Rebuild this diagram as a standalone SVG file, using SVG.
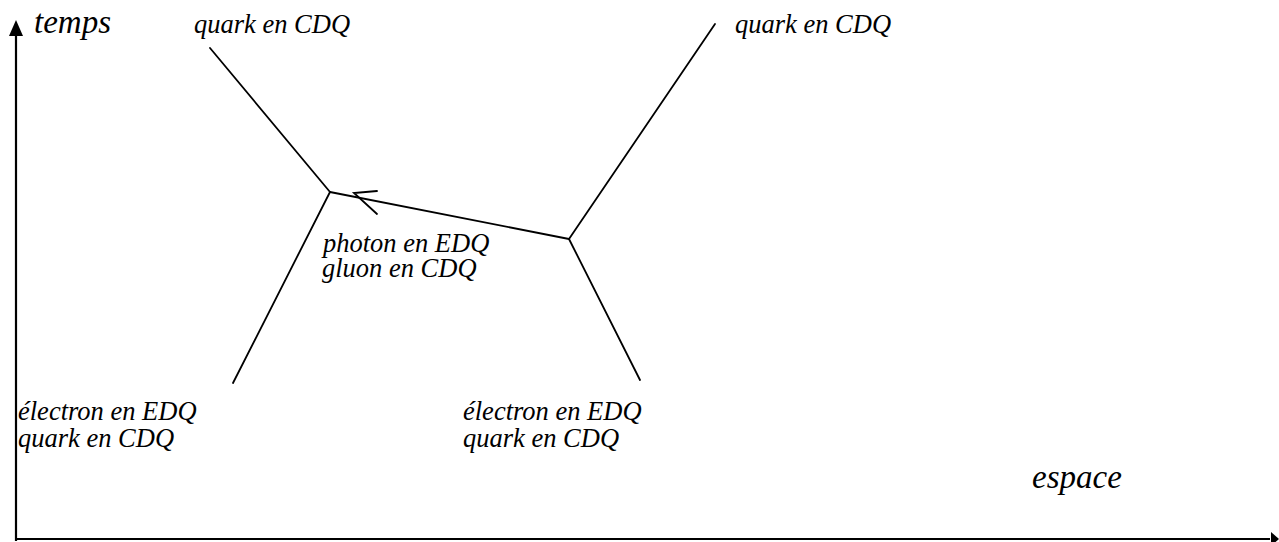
<svg xmlns="http://www.w3.org/2000/svg" width="1279" height="542" viewBox="0 0 1279 542">
<style>
.t{font-family:"Liberation Serif","Times New Roman",serif;font-style:italic;font-size:26.5px;fill:#000}
.big{font-size:33px}
.ax{stroke:#000;stroke-width:2.2;fill:none}
.ln{stroke:#000;stroke-width:1.8;fill:none;stroke-linecap:round}
</style>
<rect width="1279" height="542" fill="#fff"/>
<g id="axes">
<line class="ax" x1="16" y1="541" x2="16" y2="32"/>
<polygon points="16,20 9,36 23,36" fill="#000"/>
<line class="ax" x1="15" y1="539" x2="1270" y2="539"/>
<polygon points="1279,539 1271,532 1271,546" fill="#000"/>
<text class="t big" x="34" y="33">temps</text>
<text class="t big" x="1032" y="488">espace</text>
</g>
<g id="connectors">
<line class="ln" x1="210" y1="48" x2="330" y2="192"/>
<line class="ln" x1="330" y1="192" x2="233" y2="383"/>
<line class="ln" x1="330" y1="192" x2="569" y2="239"/>
<line class="ln" x1="569" y1="239" x2="715" y2="24"/>
<line class="ln" x1="569" y1="239" x2="640" y2="380"/>
<polyline class="ln" points="377,191 354,193 377,214"/>
</g>
<g id="node-quark-top-left"><text class="t" x="194" y="33">quark en CDQ</text></g>
<g id="node-quark-top-right"><text class="t" x="735" y="33">quark en CDQ</text></g>
<g id="node-photon"><text class="t" x="323" y="252">photon en EDQ</text><text class="t" x="322" y="277">gluon en CDQ</text></g>
<g id="node-electron-left"><text class="t" x="18" y="420">électron en EDQ</text><text class="t" x="18" y="447">quark en CDQ</text></g>
<g id="node-electron-right"><text class="t" x="463" y="420">électron en EDQ</text><text class="t" x="463" y="447">quark en CDQ</text></g>
</svg>
